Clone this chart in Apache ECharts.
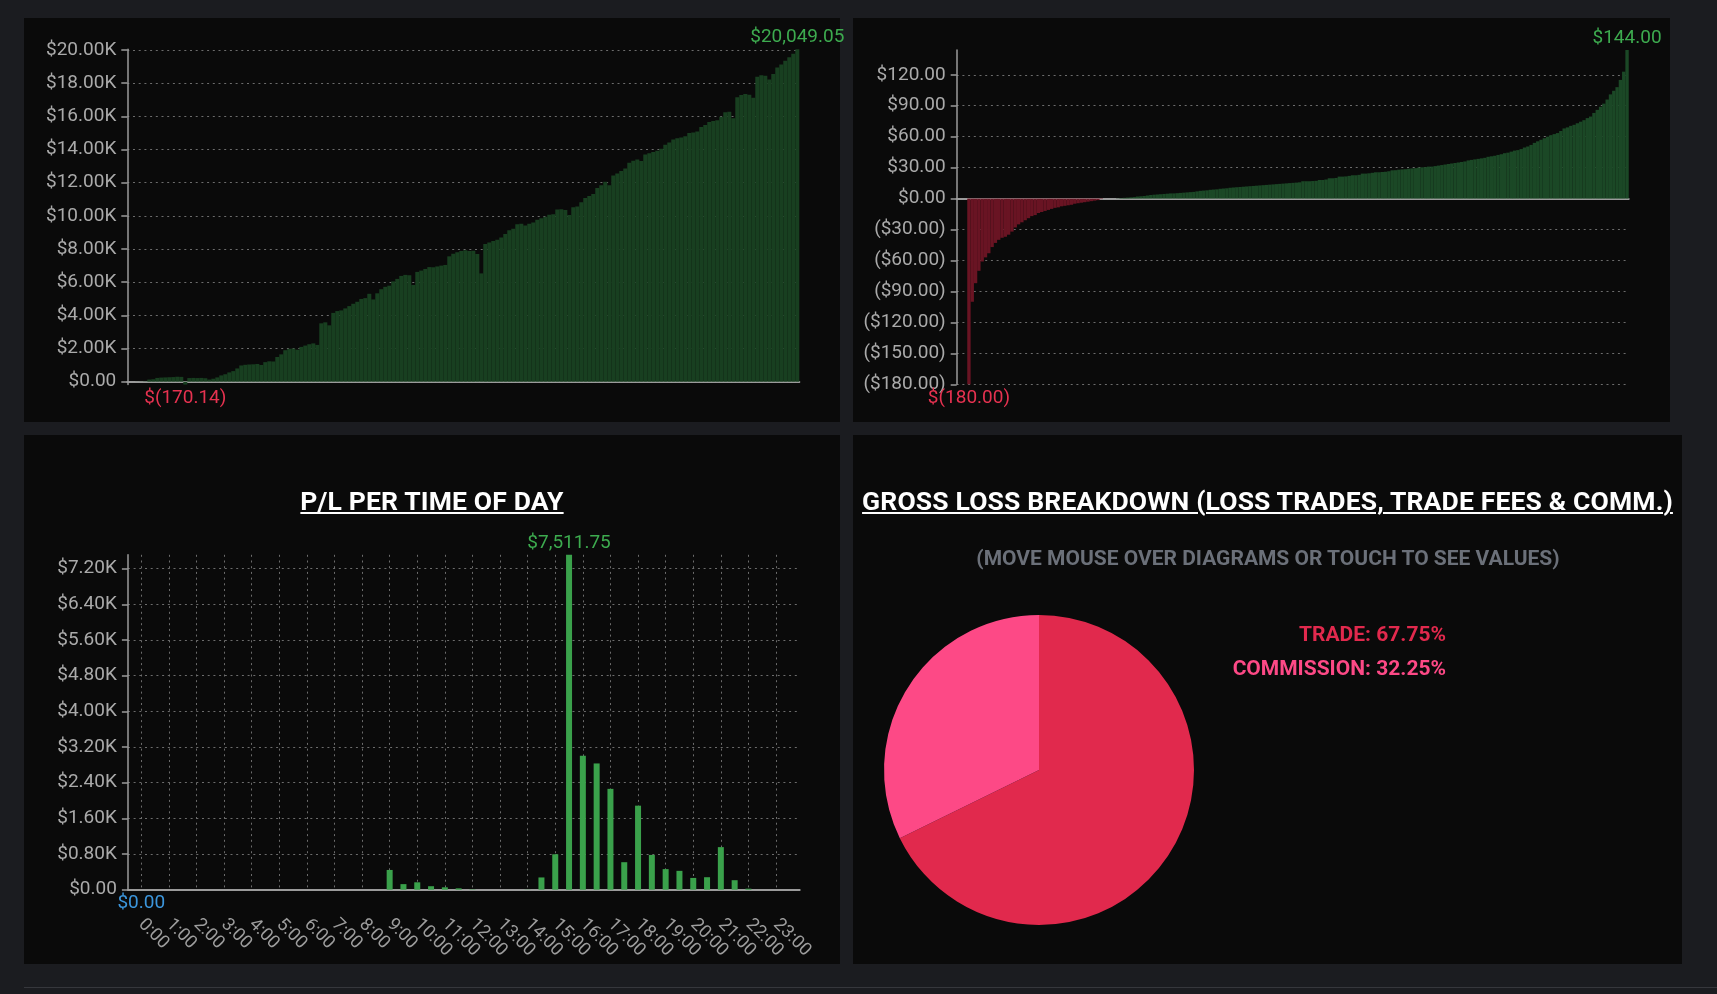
<!DOCTYPE html>
<html>
<head>
<meta charset="utf-8">
<script src="https://cdn.jsdelivr.net/npm/echarts@6/dist/echarts.min.js"></script>
<style>
html,body{margin:0;padding:0;background:#1b1c20;width:1717px;height:994px;overflow:hidden;font-family:Roboto,sans-serif;}
#chart{position:absolute;left:0;top:0;width:1717px;height:994px;}
.title{position:absolute;color:#ffffff;font:700 26.5px/30px Roboto,sans-serif;letter-spacing:0.15px;text-decoration:underline;text-decoration-thickness:1.5px;text-underline-offset:2px;white-space:nowrap;transform:translateX(-50%);}
.sub{position:absolute;color:#6b7079;font:700 21px/24px Roboto,sans-serif;white-space:nowrap;transform:translateX(-50%);}
</style>
</head>
<body>
<div id="chart"></div>
<div class="title" style="left:432px;top:486px">P/L PER TIME OF DAY</div>
<div class="title" style="left:1267.5px;top:486px">GROSS LOSS BREAKDOWN (LOSS TRADES, TRADE FEES &amp; COMM.)</div>
<div class="sub" style="left:1268px;top:546px">(MOVE MOUSE OVER DIAGRAMS OR TOUCH TO SEE VALUES)</div>
<script>
// ---- data ----
const equityCurve = [0,0,5,10,20,130,150,230,250,260,270,280,300,290,-170.14,220,230,220,230,210,130,180,260,380,450,560,640,800,980,1020,1040,1050,1070,1010,1180,1230,1220,1490,1650,1900,1990,2000,1930,2100,2180,2260,2310,2220,3520,3580,3400,4150,4260,4300,4420,4560,4700,4820,4990,5040,5300,4960,5330,5580,5720,5790,6050,6200,6380,6440,6420,5830,6620,6700,6800,6910,6900,6950,7000,7040,7560,7720,7800,7880,7920,
7880,7900,7700,6530,8300,8400,8480,8560,8700,8900,9130,9230,9500,9520,9420,9530,9600,9760,9850,9950,10060,10100,10380,10400,10360,10050,10520,10560,10820,11080,11200,11320,11680,11850,12060,11850,12440,12560,12700,12860,13200,13320,13400,13300,13700,13780,13850,13920,14050,14280,14420,14600,14680,14720,14800,15000,15020,15080,15350,15480,15660,15720,15760,15980,16250,16280,15880,17150,17280,17340,17300,17120,18380,18480,18450,18220,18560,18950,19120,19350,19560,19780,20049.05];

const tradePL = [-180,-100,-82,-70,-61,-57,-53,-47,-43,-40,-38,-37,-35,-32,-28,-25,-23,-21,-19,-17,-16,-14,-13,-12,-11,-10,-9,-8.5,-7.5,-7,-6.5,-6,-5,-4.5,-4,-3.5,-3,-2.5,-2,-1.5,-0.5,
0,0,0,0,0.25,0.5,0.75,1,1.25,1.5,2,2.25,2.5,3,3.5,3.75,4,4.25,4.5,4.75,5,5,5.25,5.5,5.75,6,6.25,6.5,7,7.5,7.75,8,8.5,8.75,9,9.5,9.75,10,10.5,10.75,11,11.25,11.5,11.75,12,12.25,12.5,12.75,13,13.25,13.5,13.75,14,14.25,14.5,14.75,15,15.25,15.5,15.75,
16.8,16.8,16.8,17,17.2,18,18,18.5,19.7,19.7,20,21.3,21.3,21.5,22,22.6,22.6,23,24.2,24.2,24.5,25,25.5,25.5,25.75,26,26.5,27.4,27.5,28,28.25,28.5,29,29.25,29.5,30,30.3,30.5,31,31,31.5,32,32.5,33,33.5,34,34.5,35,35.5,36,37,37.5,38,38.5,39,39.5,40.5,41,41.5,42.3,43,44,44.5,45.5,46.5,47,48,49.5,50.5,52,54,55.5,57,58.5,60,61.5,62.5,63.5,65.5,68,69,70.5,71.5,73,74.5,76,78,79.5,83,86,89,92,96,101,104.5,108,115,123,144];

const todSlots = [0,0.5,1,1.5,2,2.5,3,3.5,4,4.5,5,5.5,6,6.5,7,7.5,8,8.5,9,9.5,10,10.5,11,11.5,12,12.5,13,13.5,14,14.5,15,15.5,16,16.5,17,17.5,18,18.5,19,19.5,20,20.5,21,21.5,22,22.5,23,23.5];
const todPL = [0,0,0,0,0,0,0,0,0,0,0,0,0,0,0,0,0,0,443,125,166,78,54,31,8,0,0,0,4,275,795,7511.75,3007,2832,2262,617,1885,780,462,423,264,280,955,213,23,0,0,0];
const hourTicks = [0,1,2,3,4,5,6,7,8,9,10,11,12,13,14,15,16,17,18,19,20,21,22,23];

const equityTicks = [0,2000,4000,6000,8000,10000,12000,14000,16000,18000,20000];
const tradeTicks = [-180,-150,-120,-90,-60,-30,0,30,60,90,120];
const todTicks = [0,800,1600,2400,3200,4000,4800,5600,6400,7200];

const lossNames = ['TRADE','COMMISSION'];
const lossShares = [67.75, 32.25];
const lossColors = ['#e1294d','#fd4986'];

// ---- styles ----
const AX = '#9b9b9b', LBL = '#aaaaaa', GL = '#6c6c6c';
const GREEN = '#3dab4f', RED = '#e63250', BLUE = '#3c96dc';
const FONT = 'Roboto';

function money(v){
  const a = Math.abs(v).toLocaleString('en-US',{minimumFractionDigits:2,maximumFractionDigits:2});
  return v < 0 ? '$(' + a + ')' : '$' + a;
}
function kLabel(v){ return v === 0 ? '$0.00' : '$' + (v/1000).toFixed(2) + 'K'; }
function plainLabel(v){ return v < 0 ? '($' + (-v).toFixed(2) + ')' : '$' + v.toFixed(2); }

function yMain(grid, min, max, interval, ticks, fmt){
  return {type:'value', gridIndex:grid, position:'left', offset:0, min:min, max:max, interval:interval,
    axisLine:{show:true, onZero:false, lineStyle:{color:AX, width:1.5}},
    axisTick:{show:true, length:6, customValues:ticks, lineStyle:{color:AX, width:1.5}},
    axisLabel:{show:true, customValues:ticks, formatter:fmt, color:LBL, fontSize:19, fontFamily:FONT, margin:11},
    splitLine:{show:true, lineStyle:{color:GL, width:1, type:[2,3.7]}}};
}
function yInner(grid, min, max, interval, ticks){
  return {type:'value', gridIndex:grid, position:'left', offset:0, min:min, max:max, interval:interval,
    axisLine:{show:false},
    axisTick:{show:true, inside:true, length:6, customValues:ticks, lineStyle:{color:AX, width:1.5}},
    axisLabel:{show:false}, splitLine:{show:false}};
}
function markPts(arr, valueDim){
  const mx = Math.max.apply(null, arr), mn = Math.min.apply(null, arr);
  const col = v => v > 0 ? GREEN : (v < 0 ? RED : BLUE);
  const mk = (type, pos, v, dist) => {
    const d = {type:type, label:{position:pos, distance:dist, color:col(v)}};
    if (valueDim) d.valueDim = valueDim;
    return d;
  };
  return {symbol:'circle', symbolSize:0, silent:true,
    label:{show:true, fontSize:19, fontFamily:FONT, formatter:p => money(p.value)},
    data:[mk('max','top',mx,2.5), mk('min','bottom',mn,4.5)]};
}

const chart = echarts.init(document.getElementById('chart'), null, {renderer:'canvas', width:1717, height:994});

const option = {
  animation:false,
  backgroundColor:'transparent',
  textStyle:{fontFamily:FONT},
  graphic:[
    {type:'rect', z:-10, silent:true, shape:{x:24, y:18, width:816, height:404}, style:{fill:'#0a0a0a'}},
    {type:'rect', z:-10, silent:true, shape:{x:853, y:18, width:817, height:404}, style:{fill:'#0a0a0a'}},
    {type:'rect', z:-10, silent:true, shape:{x:24, y:435, width:816, height:529}, style:{fill:'#0a0a0a'}},
    {type:'rect', z:-10, silent:true, shape:{x:853, y:435, width:829, height:529}, style:{fill:'#0a0a0a'}},
    {type:'rect', z:-10, silent:true, shape:{x:24, y:987, width:1693, height:1}, style:{fill:'#36373c'}}
  ].concat(lossNames.map((n,i) => ({
    type:'text', x:1446, y:636 + 34*i, silent:true,
    style:{text:n + ': ' + lossShares[i].toFixed(2) + '%', fill:lossColors[i], font:'bold 21px Roboto',
           align:'right', verticalAlign:'middle', textAlign:'right', textVerticalAlign:'middle'}
  }))),
  grid:[
    {left:127.3, top:49.19, width:672, height:335.34},
    {left:956.7, top:50, width:672, height:334.3},
    {left:127.9, top:554.8, width:671.8, height:334.9}
  ],
  xAxis:[
    {type:'category', gridIndex:0, data:equityCurve.map((v,i) => i + 1), boundaryGap:true,
      axisLine:{show:true, onZero:true, lineStyle:{color:AX, width:2}}, axisTick:{show:false}, axisLabel:{show:false}, splitLine:{show:false}},
    {type:'value', gridIndex:1, min:-3.7, max:199.5,
      axisLine:{show:true, onZero:true, lineStyle:{color:AX, width:2}}, axisTick:{show:false}, axisLabel:{show:false}, splitLine:{show:false}},
    {type:'value', gridIndex:2, min:-0.484, max:23.857,
      axisLine:{show:true, onZero:true, lineStyle:{color:AX, width:2}},
      axisTick:{show:false, customValues:hourTicks},
      axisLabel:{show:true, customValues:hourTicks, formatter:v => v + ':00', rotate:-45, margin:32, color:'#9d9d9d', fontSize:18, fontFamily:FONT},
      splitLine:{show:true, lineStyle:{color:GL, width:1, type:[2,3.7]}}}
  ],
  yAxis:[
    yMain(0, 'dataMin', 'dataMax', 2000, equityTicks, kLabel),
    yMain(1, 'dataMin', 'dataMax', 30, tradeTicks, plainLabel),
    yMain(2, 0, 'dataMax', 800, todTicks, kLabel),
    yInner(0, 'dataMin', 'dataMax', 2000, equityTicks),
    yInner(1, 'dataMin', 'dataMax', 30, tradeTicks),
    yInner(2, 0, 'dataMax', 800, todTicks)
  ],
  series:[
    {type:'bar', xAxisIndex:0, yAxisIndex:0, data:equityCurve, barCategoryGap:'0%', silent:true,
      itemStyle:{color:'#183f20'}, markPoint:markPts(equityCurve)},
    {type:'bar', xAxisIndex:1, yAxisIndex:1, data:tradePL.map((v,i) => [i, v]), barWidth:3.4, silent:true,
      itemStyle:{color:p => p.value[1] < 0 ? '#691423' : '#1b4826'}, markPoint:markPts(tradePL, 'y')},
    {type:'bar', xAxisIndex:2, yAxisIndex:2, data:todSlots.map((h,i) => [h, todPL[i]]), barWidth:6, silent:true,
      itemStyle:{color:'#3aa14b'}, markPoint:markPts(todPL, 'y')},
    {type:'pie', center:[1039,770], radius:155, startAngle:90, clockwise:true, silent:true,
      label:{show:false}, labelLine:{show:false}, itemStyle:{borderWidth:0},
      data:lossNames.map((n,i) => ({name:n, value:lossShares[i], itemStyle:{color:lossColors[i]}}))}
  ]
};
chart.setOption(option);
</script>
</body>
</html>
